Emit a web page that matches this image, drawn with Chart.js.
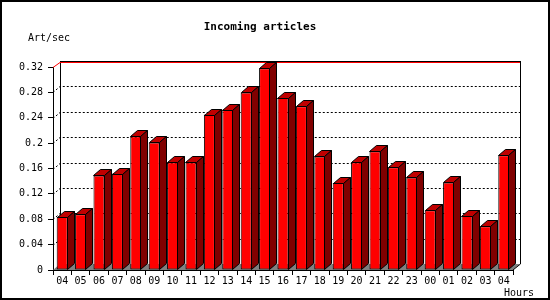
<!DOCTYPE html>
<html>
<head>
<meta charset="utf-8">
<script src="https://cdn.jsdelivr.net/npm/chart.js@4.4.0/dist/chart.umd.min.js"></script>
<style>
  html, body { margin: 0; padding: 0; background: #fff; }
  #wrap { width: 550px; height: 300px; position: relative; }
</style>
</head>
<body>
<div id="wrap"><canvas id="articlesChart" width="550" height="300"></canvas></div>
<script>
const hours = ['04', '05', '06', '07', '08', '09', '10', '11', '12', '13', '14', '15', '16',
               '17', '18', '19', '20', '21', '22', '23', '00', '01', '02', '03', '04'];
const artPerSec = [0.084, 0.088, 0.149, 0.152, 0.211, 0.201, 0.170, 0.170, 0.245, 0.253, 0.280, 0.318, 0.271,
                   0.258, 0.179, 0.137, 0.170, 0.187, 0.162, 0.146, 0.094, 0.138, 0.085, 0.069, 0.181];
const yMax = 0.32;
const yStep = 0.04;

// depth of the fake 3d
const DX = 7, DY = 6;
const mono = '"DejaVu Sans Mono", "Liberation Mono", monospace';

const threeD = {
    id: 'threeD',
    beforeDraw: function (chart) {
        const ctx = chart.ctx;
        ctx.save();
        ctx.fillStyle = '#fff';
        ctx.fillRect(0, 0, chart.width, chart.height);
        ctx.restore();
    },
    beforeDatasetsDraw: function (chart) {
        const ctx = chart.ctx;
        const a = chart.chartArea;
        const y = chart.scales.y;
        ctx.save();
        ctx.lineWidth = 1;

        // floor
        ctx.fillStyle = '#808080';
        ctx.beginPath();
        ctx.moveTo(a.left, a.bottom);
        ctx.lineTo(a.left + DX, a.bottom - DY);
        ctx.lineTo(a.right + DX, a.bottom - DY);
        ctx.lineTo(a.right, a.bottom);
        ctx.closePath();
        ctx.fill();

        // dotted grid on back wall + left wall
        ctx.strokeStyle = '#000';
        ctx.setLineDash([2, 2]);
        y.ticks.forEach(t => {
            if (t.value <= 0 || t.value >= yMax) return;
            const py = Math.round(y.getPixelForValue(t.value)) + 0.5;
            ctx.beginPath();
            ctx.moveTo(a.left, py);
            ctx.lineTo(a.left + DX, py - DY);
            ctx.lineTo(a.right + DX, py - DY);
            ctx.stroke();
        });
        ctx.setLineDash([]);

        // back wall frame
        ctx.beginPath();
        ctx.moveTo(a.left + DX + 0.5, a.top - DY);
        ctx.lineTo(a.left + DX + 0.5, a.bottom - DY);
        ctx.moveTo(a.right + DX + 0.5, a.top - DY);
        ctx.lineTo(a.right + DX + 0.5, a.bottom - DY);
        ctx.lineTo(a.right, a.bottom);
        ctx.stroke();

        ctx.beginPath();
        ctx.moveTo(a.left + DX, a.top - DY + 0.5);
        ctx.lineTo(a.right + DX + 1, a.top - DY + 0.5);
        ctx.stroke();
        ctx.strokeStyle = '#ff0000';
        ctx.beginPath();
        ctx.moveTo(a.left, a.top + 0.5);
        ctx.lineTo(a.left + DX, a.top - DY + 1.5);
        ctx.lineTo(a.right + DX, a.top - DY + 1.5);
        ctx.stroke();
        ctx.restore();
    },
    afterDatasetsDraw: function (chart) {
        const ctx = chart.ctx;
        const meta = chart.getDatasetMeta(0);
        ctx.save();
        ctx.lineWidth = 1;
        ctx.strokeStyle = '#000';
        meta.data.forEach(bar => {
            const l = Math.round(bar.x - bar.width / 2) + 0.5;
            const r = Math.round(bar.x + bar.width / 2) - 0.5;
            const t = Math.round(bar.y) + 0.5;
            const b = Math.round(bar.base) - 0.5;
            // top face
            ctx.fillStyle = '#c00000';
            ctx.beginPath();
            ctx.moveTo(l, t);
            ctx.lineTo(l + DX, t - DY);
            ctx.lineTo(r + DX, t - DY);
            ctx.lineTo(r, t);
            ctx.closePath();
            ctx.fill();
            ctx.stroke();
            // side face
            ctx.fillStyle = '#800000';
            ctx.beginPath();
            ctx.moveTo(r, t);
            ctx.lineTo(r + DX, t - DY);
            ctx.lineTo(r + DX, b - DY);
            ctx.lineTo(r, b);
            ctx.closePath();
            ctx.fill();
            ctx.stroke();
        });
        ctx.restore();
    },
    afterDraw: function (chart) {
        const ctx = chart.ctx;
        ctx.save();
        ctx.fillStyle = '#000';
        ctx.textBaseline = 'alphabetic';
        ctx.font = 'bold 11px ' + mono;
        ctx.textAlign = 'center';
        ctx.fillText('Incoming articles', 260, 30);
        ctx.font = '10px ' + mono;
        ctx.textAlign = 'left';
        ctx.fillText('Art/sec', 28, 41);
        ctx.fillText('Hours', 504, 296);
        ctx.strokeStyle = '#000';
        ctx.lineWidth = 2;
        ctx.strokeRect(1, 1, chart.width - 2, chart.height - 2);
        ctx.restore();
    }
};

const ctx = document.getElementById('articlesChart').getContext('2d');
const articlesChart = new Chart(ctx, {
    type: 'bar',
    data: {
        labels: hours,
        datasets: [{
            label: 'Art/sec',
            data: artPerSec,
            backgroundColor: '#ff0000',
            borderColor: '#000',
            borderWidth: 1,
            borderSkipped: false,
            barPercentage: 0.6,
            categoryPercentage: 1
        }]
    },
    options: {
        responsive: false,
        animation: false,
        layout: {
            padding: { top: 67, right: 37, bottom: 0, left: 0 }
        },
        plugins: {
            legend: { display: false },
            title: { display: false },
            tooltip: { enabled: false }
        },
        scales: {
            x: {
                grid: {
                    offset: true,
                    drawOnChartArea: false,
                    tickLength: 5,
                    color: '#000'
                },
                border: { display: true, color: '#000' },
                ticks: {
                    color: '#000',
                    font: { family: mono, size: 10 },
                    padding: 0,
                    maxRotation: 0,
                    autoSkip: false
                },
                afterFit: function (scale) { scale.height = 30; }
            },
            y: {
                min: 0,
                max: yMax,
                grid: {
                    drawOnChartArea: false,
                    tickLength: 5,
                    color: '#000'
                },
                border: { display: true, color: '#000' },
                ticks: {
                    stepSize: yStep,
                    color: '#000',
                    font: { family: mono, size: 10 },
                    padding: 5,
                    callback: function (value) {
                        return String(+value.toFixed(2));
                    }
                },
                afterFit: function (scale) { scale.width = 53; }
            }
        }
    },
    plugins: [threeD]
});
</script>
</body>
</html>
